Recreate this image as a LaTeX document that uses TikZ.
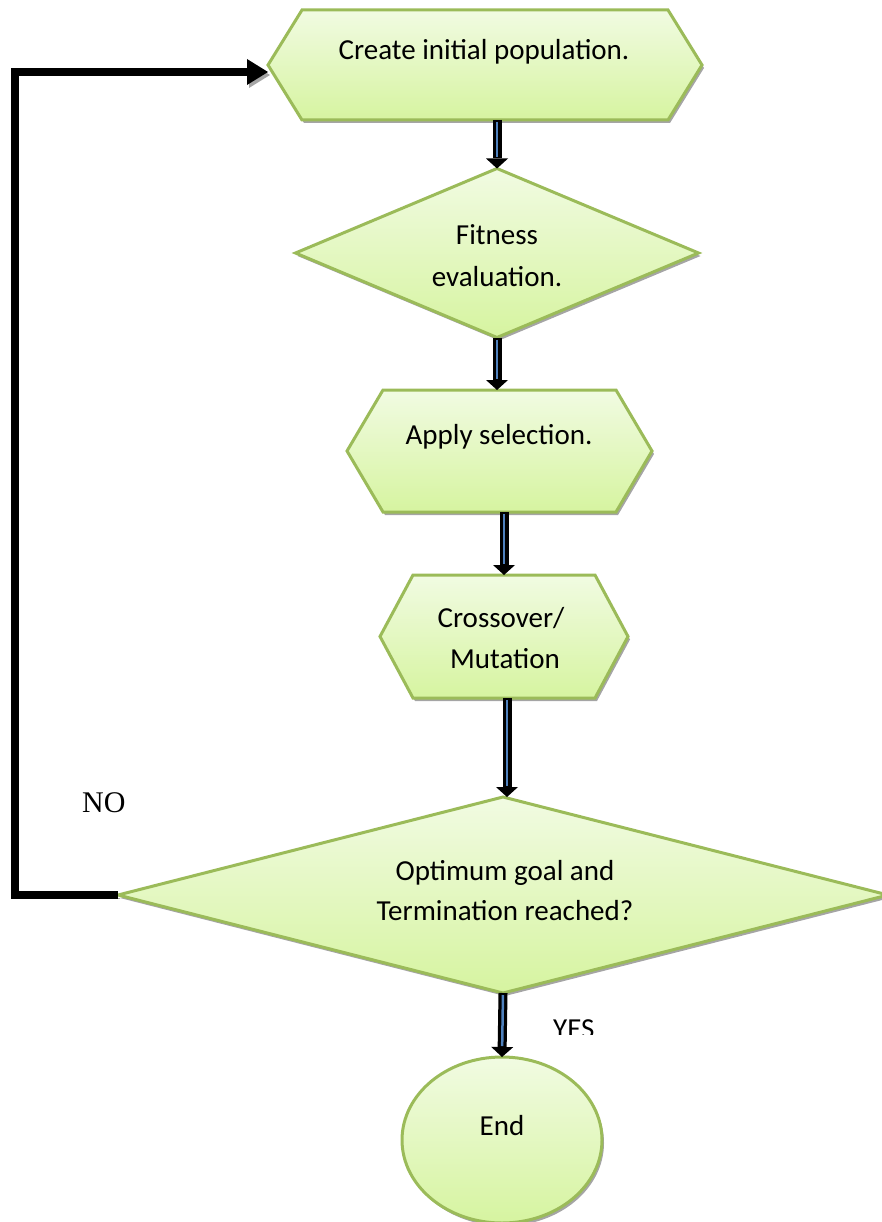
\documentclass[tikz,border=0pt]{standalone}
\usepackage{fontspec}
\setmainfont{Carlito}
\newfontfamily\nofont{Liberation Serif}
\usetikzlibrary{shapes.geometric,arrows.meta,shadows}
\definecolor{gEdge}{RGB}{155,187,89}
\definecolor{gTop}{RGB}{241,251,226}
\definecolor{gBot}{RGB}{214,244,160}
\definecolor{stripe}{RGB}{79,129,189}
\definecolor{shgray}{RGB}{165,165,165}
\begin{document}
\begin{tikzpicture}[x=1pt,y=-1pt,
  frame/.style={inner sep=0pt, outer sep=0pt},
  flowfill/.style={top color=gTop, bottom color=gBot, draw=gEdge, line width=3pt, line join=miter,
    drop shadow={shadow xshift=2pt, shadow yshift=-3pt, fill=shgray, opacity=1}},
  txt/.style={font=\fontsize{29}{40}\selectfont, inner sep=0pt, anchor=base},
  conn/.style={line width=9pt, black, -{Triangle[width=22pt,length=10pt,line width=0pt 0]}},
  stripeline/.style={line width=2.5pt, stripe, shorten >=11pt, shorten <=2pt},
  loopline/.style={line width=8pt, black, line join=miter, -{Triangle[width=26pt,length=21pt,line width=0pt 0]},
    preaction={draw=shgray, transform canvas={xshift=2pt, yshift=-3pt}}}]
\useasboundingbox (0,0) rectangle (882,1222);

% frames of the shapes
\node[frame, minimum width=434, minimum height=110] (s1) at (485,65) {};
\node[frame, diamond, flowfill, minimum width=403, minimum height=169] (d1) at (497,253) {};
\node[frame, minimum width=305, minimum height=122] (s2) at (499.5,451) {};
\node[frame, minimum width=248, minimum height=123] (s3) at (504,636.5) {};
\node[frame, diamond, flowfill, minimum width=770, minimum height=196] (d2) at (503,895) {};
\node[frame, ellipse, flowfill, minimum width=200, minimum height=166] (e) at (502,1140) {};

% hexagons
\path[flowfill] (s1.west) -- ([xshift=34pt]s1.north west) -- ([xshift=-34pt]s1.north east) -- (s1.east)
  -- ([xshift=-34pt]s1.south east) -- ([xshift=34pt]s1.south west) -- cycle;
\path[flowfill] (s2.west) -- ([xshift=36pt]s2.north west) -- ([xshift=-36pt]s2.north east) -- (s2.east)
  -- ([xshift=-36pt]s2.south east) -- ([xshift=36pt]s2.south west) -- cycle;
\path[flowfill] (s3.west) -- ([xshift=33pt]s3.north west) -- ([xshift=-33pt]s3.north east) -- (s3.east)
  -- ([xshift=-33pt]s3.south east) -- ([xshift=33pt]s3.south west) -- cycle;

% texts
\node[txt] (t1) at (484,60) {Create initial population.};
\node[txt] (t2a) at (497,245) {Fitness};
\node[txt] (t2b) at (497,287) {evaluation.};
\node[txt] (t3) at (499,444) {Apply selection.};
\node[txt] (t4a) at (501,627) {Crossover/};
\node[txt] (t4b) at (505,668) {Mutation};
\node[txt] (t5a) at (505,880) {Optimum goal and};
\node[txt] (t5b) at (505,920) {Termination reached?};
\node[txt] (t6) at (502,1135) {End};
\node[inner sep=0pt, anchor=base west, font=\nofont\fontsize{30}{36}\selectfont] (no) at (82,812) {NO};
\begin{scope}
  \clip (540,1000) rectangle (640,1034);
  \node[txt, anchor=base west] (yes) at (553,1038) {YES};
\end{scope}

% connectors
\draw[conn] (d1.north |- s1.south) -- (d1.north);
\draw[stripeline] (d1.north |- s1.south) -- (d1.north);
\draw[conn] (d1.south) -- (d1.south |- s2.north);
\draw[stripeline] (d1.south) -- (d1.south |- s2.north);
\draw[conn] (s3.north |- s2.south) -- (s3.north);
\draw[stripeline] (s3.north |- s2.south) -- (s3.north);
\draw[conn] ([xshift=3pt]s3.south) -- ([xshift=3pt]s3.south |- d2.north);
\draw[stripeline] ([xshift=3pt]s3.south) -- ([xshift=3pt]s3.south |- d2.north);
\draw[conn] (d2.south) -- (e.north);
\draw[stripeline] (d2.south) -- (e.north);
\draw[loopline] (d2.west) -- ++(-103,0) |- ([yshift=-7pt]s1.west);
\end{tikzpicture}
\end{document}
